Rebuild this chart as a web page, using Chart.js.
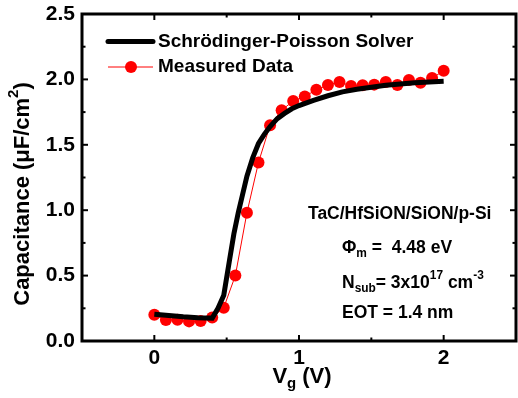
<!DOCTYPE html>
<html><head><meta charset="utf-8">
<script src="https://cdn.jsdelivr.net/npm/chart.js@4/dist/chart.umd.min.js"></script>
<style>html,body{margin:0;padding:0;background:#fff}canvas{display:block}</style>
</head><body>
<canvas id="c" width="518" height="398"></canvas>
<script>
const measuredV = [0,0.08,0.16,0.24,0.32,0.40,0.48,0.56,0.64,0.72,0.80,0.88,0.96,1.04,1.12,1.20,1.28,1.36,1.44,1.52,1.60,1.68,1.76,1.84,1.92,2.00];
const measuredC = [0.20,0.16,0.163,0.15,0.153,0.18,0.255,0.50,0.98,1.365,1.65,1.765,1.834,1.87,1.92,1.957,1.98,1.95,1.955,1.96,1.98,1.957,1.995,1.975,2.01,2.066];
const solverV = [0,0.1,0.2,0.3,0.4,0.44,0.48,0.52,0.55,0.58,0.61,0.64,0.68,0.72,0.76,0.80,0.85,0.90,0.95,1.0,1.1,1.2,1.3,1.4,1.5,1.6,1.7,1.8,1.9,2.0];
const solverC = [0.205,0.195,0.185,0.178,0.175,0.25,0.35,0.62,0.82,0.98,1.12,1.26,1.40,1.51,1.58,1.64,1.70,1.74,1.775,1.80,1.84,1.875,1.905,1.925,1.94,1.955,1.965,1.975,1.98,1.985];
const xTickLabels = ['0','1','2'];
const FONT = '"Liberation Sans", Arial, sans-serif';

function pts(xs, ys){ return xs.map((x,i)=>({x:x,y:ys[i]})); }

function richText(ctx, segs, x, y, size){
  let cx = x;
  for (const [t, k] of segs){
    const s = k === 'n' ? size : size*0.68;
    const dy = k === 'sub' ? size*0.32 : (k === 'sup' ? -size*0.42 : 0);
    ctx.font = 'bold ' + s + 'px ' + FONT;
    ctx.fillText(t, cx, y + dy);
    cx += ctx.measureText(t).width;
  }
  return cx - x;
}
function richWidth(ctx, segs, size){
  let w = 0;
  for (const [t,k] of segs){ const s = k==='n'?size:size*0.68; ctx.font='bold '+s+'px '+FONT; w += ctx.measureText(t).width; }
  return w;
}

const framePlugin = {
  id: 'frame',
  afterDraw(chart){
    const ctx = chart.ctx;
    ctx.save();
    const a = chart.chartArea, xs = chart.scales.x, ys = chart.scales.y;
    ctx.strokeStyle = '#000000';
    ctx.lineWidth = 2;
    const maj = 6, mnr = 3.5;
    for (let v = -0.5; v <= 2.5001; v += 0.5){
      const px = xs.getPixelForValue(v);
      const L = Math.abs(v - Math.round(v)) < 1e-6 ? maj : mnr;
      ctx.beginPath(); ctx.moveTo(px, a.bottom); ctx.lineTo(px, a.bottom - L); ctx.stroke();
      ctx.beginPath(); ctx.moveTo(px, a.top); ctx.lineTo(px, a.top + L); ctx.stroke();
    }
    for (let v = 0; v <= 2.5001; v += 0.25){
      const py = ys.getPixelForValue(v);
      const L = Math.abs(v*2 - Math.round(v*2)) < 1e-6 ? maj : mnr;
      ctx.beginPath(); ctx.moveTo(a.left, py); ctx.lineTo(a.left + L, py); ctx.stroke();
      ctx.beginPath(); ctx.moveTo(a.right, py); ctx.lineTo(a.right - L, py); ctx.stroke();
    }
    ctx.lineWidth = 3;
    ctx.beginPath();
    ctx.rect(a.left, a.top, a.right - a.left, a.bottom - a.top);
    ctx.stroke();

    const d0 = chart.data.datasets[0], d1 = chart.data.datasets[1];
    ctx.textBaseline = 'middle'; ctx.textAlign = 'left'; ctx.fillStyle = '#000';
    ctx.lineWidth = d0.borderWidth; ctx.strokeStyle = d0.borderColor; ctx.lineCap = 'round';
    ctx.beginPath(); ctx.moveTo(108, 41.5); ctx.lineTo(153, 41.5); ctx.stroke();
    ctx.lineCap = 'butt';
    ctx.font = 'bold 19px ' + FONT;
    ctx.fillText(d0.label, 158, 42);
    ctx.lineWidth = 1; ctx.strokeStyle = d1.borderColor;
    ctx.beginPath(); ctx.moveTo(108, 67); ctx.lineTo(153, 67); ctx.stroke();
    ctx.fillStyle = d1.pointBackgroundColor;
    ctx.beginPath(); ctx.arc(131, 67, 6, 0, Math.PI*2); ctx.fill();
    ctx.fillStyle = '#000';
    ctx.fillText(d1.label, 158, 67);

    ctx.font = 'bold 17.5px ' + FONT;
    ctx.fillText('TaC/HfSiON/SiON/p-Si', 308, 214);
    richText(ctx, [['\u03A6','n'],['m','sub'],[' =  4.48 eV','n']], 342, 248, 17.5);
    richText(ctx, [['N','n'],['sub','sub'],['= 3x10','n'],['17','sup'],[' cm','n'],['-3','sup']], 342, 283, 17.5);
    richText(ctx, [['EOT = 1.4 nm','n']], 342, 313, 17.5);

    ctx.save();
    ctx.translate(23, 194); ctx.rotate(-Math.PI/2);
    const ySegs = [['Capacitance (\u03BCF/cm','n'],['2','sup'],[')','n']];
    const w = richWidth(ctx, ySegs, 22);
    richText(ctx, ySegs, -w/2, 0, 22);
    ctx.restore();
    const xSegs = [['V','n'],['g','sub'],[' (V)','n']];
    const wx = richWidth(ctx, xSegs, 22);
    richText(ctx, xSegs, 302 - wx/2, 377, 22);
    ctx.restore();
  }
};

new Chart(document.getElementById('c'), {
  type: 'scatter',
  data: {
    datasets: [
      { label: 'Schrödinger-Poisson Solver', data: pts(solverV, solverC), showLine: true,
        borderColor: '#000', borderWidth: 5, pointRadius: 0, tension: 0, order: 1 },
      { label: 'Measured Data', data: pts(measuredV, measuredC), showLine: true,
        borderColor: '#ff0000', borderWidth: 1, pointRadius: 6, pointBackgroundColor: '#ff0000',
        pointBorderWidth: 0, pointBorderColor: '#ff0000', order: 2 }
    ]
  },
  options: {
    responsive: false, animation: false, devicePixelRatio: 1,
    layout: { autoPadding: false, padding: { top: 14, right: 2, left: 0, bottom: 0 } },
    plugins: { legend: { display: false }, tooltip: { enabled: false } },
    scales: {
      x: { type: 'linear', min: -0.5, max: 2.5,
        grid: { display: false, drawTicks: false }, border: { display: false },
        afterFit: s => { s.height = 57; s.paddingLeft = 0; s.paddingRight = 0; },
        ticks: { stepSize: 0.5, padding: 5, color: '#000', maxRotation: 0, autoSkip: false,
          font: { family: FONT, size: 21, weight: 'bold' },
          callback: v => { const i = xTickLabels.indexOf(String(v)); return i >= 0 ? xTickLabels[i] : ''; } } },
      y: { type: 'linear', min: 0, max: 2.5,
        grid: { display: false, drawTicks: false }, border: { display: false },
        afterFit: s => { s.width = 82; s.paddingTop = 0; s.paddingBottom = 0; },
        ticks: { stepSize: 0.5, padding: 7, color: '#000',
          font: { family: FONT, size: 21, weight: 'bold' },
          callback: v => v.toFixed(1) } }
    }
  },
  plugins: [framePlugin]
});
</script>
</body></html>
